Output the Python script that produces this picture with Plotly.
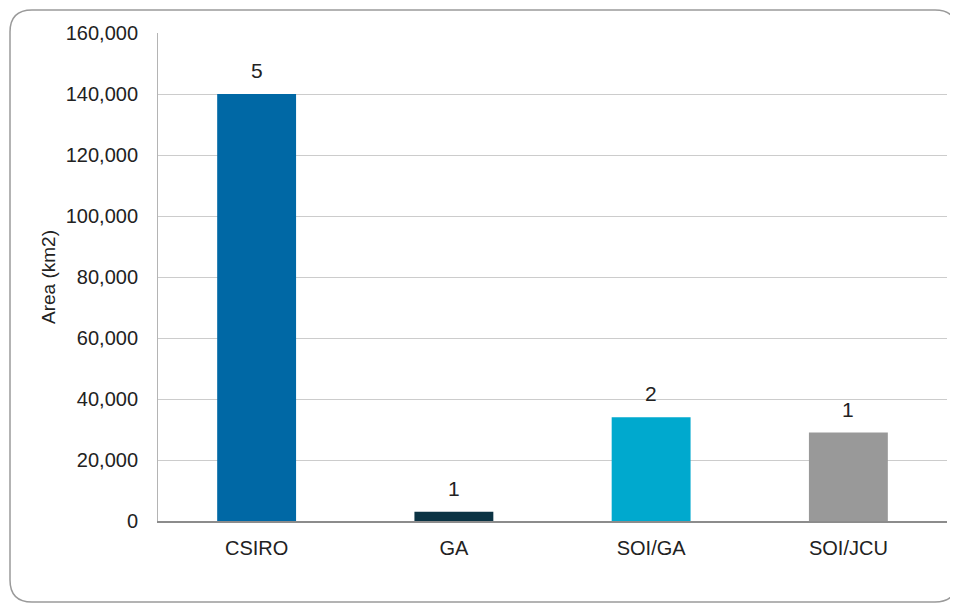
import plotly.graph_objects as go

categories = ["CSIRO", "GA", "SOI/GA", "SOI/JCU"]
area_km2 = [140000, 3000, 34000, 29000]
counts = ["5", "1", "2", "1"]
colors = ["#0068a5", "#0b3344", "#00a9ce", "#999999"]
y_ticks = [0, 20000, 40000, 60000, 80000, 100000, 120000, 140000, 160000]

# page body has an 8px margin, so the figure is placed at (8, 8)
W, H = 950, 597
L, R, T, B = 150, 11, 25, 84
pw, ph = W - L - R, H - T - B

def px(x):
    return (x - L) / pw

def py(y):
    return (H - B - y) / ph

FONT = "Liberation Sans, Arial, sans-serif"

fig = go.Figure(go.Bar(
    x=categories, y=area_km2,
    marker=dict(color=colors, line=dict(width=0)),
    width=0.4, hoverinfo="x+y",
))

# count labels above the bars
for c, v, t in zip(categories, area_km2, counts):
    fig.add_annotation(x=c, y=v, text=t, showarrow=False, yanchor="bottom",
                       yshift=10, font=dict(size=21, color="#222222", family=FONT))

# rounded container border
x0, x1, y0, y1, r = 2, 949, 2, 594, 22
path = (f"M {px(x0+r)} {py(y0)} L {px(x1-r)} {py(y0)} "
        f"Q {px(x1)} {py(y0)} {px(x1)} {py(y0+r)} "
        f"L {px(x1)} {py(y1-r)} Q {px(x1)} {py(y1)} {px(x1-r)} {py(y1)} "
        f"L {px(x0+r)} {py(y1)} Q {px(x0)} {py(y1)} {px(x0)} {py(y1-r)} "
        f"L {px(x0)} {py(y0+r)} Q {px(x0)} {py(y0)} {px(x0+r)} {py(y0)} Z")

fig.update_layout(
    width=W, height=H,
    margin=dict(l=L, r=R, t=T, b=B, autoexpand=False),
    paper_bgcolor="white", plot_bgcolor="white",
    font=dict(family=FONT, size=20, color="#222222"),
    showlegend=False,
    shapes=[dict(type="path", path=path, xref="paper", yref="paper",
                 line=dict(color="#9a9a9a", width=1.5), layer="below")],
    xaxis=dict(showline=True, linecolor="#8c8c8c", linewidth=1.5, ticks="",
               tickfont=dict(size=20), ticklabelstandoff=8, fixedrange=True),
    yaxis=dict(range=[0, 160000], tickvals=y_ticks, tickformat=",", showgrid=True,
               gridcolor="#cccccc", gridwidth=1, showline=True, linecolor="#b4b4b4",
               linewidth=1, ticks="", zeroline=False, tickfont=dict(size=20),
               ticklabelstandoff=15, fixedrange=True,
               title=dict(text="Area (km2)", font=dict(size=19), standoff=5)),
)

fig.write_html("out.html")
